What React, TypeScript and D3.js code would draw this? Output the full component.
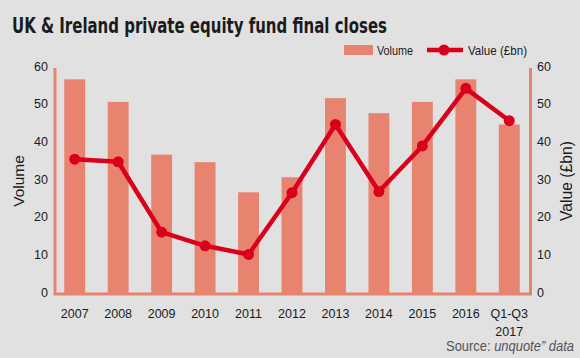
import React from "react";
import * as d3 from "d3";

const categories = ["2007", "2008", "2009", "2010", "2011", "2012", "2013", "2014", "2015", "2016", "Q1-Q3\n2017"];
const volume = [57, 51, 37, 35, 27, 31, 52, 48, 51, 57, 45];
const valueBn = [35.8, 35.1, 16.4, 12.8, 10.5, 26.9, 45.0, 27.2, 39.3, 54.6, 46.0];
const yTicks = [0, 10, 20, 30, 40, 50, 60];

const W = 580;
const H = 358;
const BG = "#e1e1e1";
const BAR = "#e8836f";
const RED = "#d9001b";
const SANS = "'Liberation Sans', Arial, sans-serif";
const COND = "'DejaVu Sans Condensed', 'Liberation Sans', sans-serif";
const INK = "#1b1b1b";

export default function App() {
  const x = d3.scaleBand<string>().domain(categories).range([53, 531]).paddingInner(0.52).paddingOuter(0.26);
  const yL = d3.scaleLinear().domain([0, 60]).range([294, 68]);
  const yR = d3.scaleLinear().domain([0, 60]).range([294, 68]);
  const cx = (c: string) => (x(c) as number) + x.bandwidth() / 2;
  const line = d3
    .line<number>()
    .x((_, i) => cx(categories[i]))
    .y((d) => yR(d));

  const frameLeft = 55;
  const frameRight = 530.5;
  const frameBottom = yL(0);
  const midY = (yL(0) + yL(60)) / 2;

  return (
    <svg width={W} height={H} style={{ position: "absolute", left: 0, top: 0 }}>
      <rect width={W} height={H} fill={BG} />
      <text
        x={12}
        y={33}
        fontFamily={COND}
        fontWeight="bold"
        fontSize={21.5}
        fill={INK}
        textLength={375}
        lengthAdjust="spacingAndGlyphs"
      >
        UK &amp; Ireland private equity fund final closes
      </text>

      {/* legend */}
      <rect x={344} y={45} width={29} height={10} fill={BAR} />
      <text x={377} y={54.5} fontFamily={SANS} fontSize={13} fill={INK} textLength={36} lengthAdjust="spacingAndGlyphs">
        Volume
      </text>
      <line x1={427} x2={463} y1={50} y2={50} stroke={RED} strokeWidth={4.5} />
      <circle cx={444} cy={50} r={5.5} fill={RED} />
      <text x={468} y={54.5} fontFamily={SANS} fontSize={13} fill={INK} textLength={59} lengthAdjust="spacingAndGlyphs">
        Value (£bn)
      </text>

      {/* bars */}
      {categories.map((c, i) => (
        <rect
          key={c}
          x={x(c)}
          y={yL(volume[i])}
          width={x.bandwidth()}
          height={yL(0) - yL(volume[i])}
          fill={BAR}
        />
      ))}

      {/* frame */}
      <path
        d={`M${frameLeft},${yL(60)} V${frameBottom} H${frameRight} V${yL(60)}`}
        fill="none"
        stroke={BAR}
        strokeWidth={3}
      />

      {/* left ticks */}
      {yTicks.map((t) => (
        <text key={"l" + t} x={48} y={yL(t) + 2.5} textAnchor="end" fontFamily={SANS} fontSize={12.5} fill={INK}>
          {t}
        </text>
      ))}
      {yTicks.map((t) => (
        <text key={"r" + t} x={537} y={yR(t) + 2.5} textAnchor="start" fontFamily={SANS} fontSize={12.5} fill={INK}>
          {t}
        </text>
      ))}

      {/* x labels */}
      {categories.map((c) => (
        <text key={"x" + c} x={cx(c)} y={318} textAnchor="middle" fontFamily={SANS} fontSize={12.5} fill={INK}>
          {c.split("\n").map((s, j) => (
            <tspan key={j} x={cx(c)} dy={j === 0 ? 0 : 17.5}>
              {s}
            </tspan>
          ))}
        </text>
      ))}

      {/* axis titles */}
      <text
        transform={`translate(24,${midY}) rotate(-90)`}
        textAnchor="middle"
        fontFamily={SANS}
        fontSize={15.5}
        fill={INK}
      >
        Volume
      </text>
      <text
        transform={`translate(572,${midY}) rotate(-90)`}
        textAnchor="middle"
        fontFamily={SANS}
        fontSize={15.7}
        fill={INK}
      >
        Value (£bn)
      </text>

      {/* value line */}
      <path d={line(valueBn) || ""} fill="none" stroke={RED} strokeWidth={4.5} strokeLinejoin="round" />
      {valueBn.map((v, i) => (
        <circle key={"p" + i} cx={cx(categories[i])} cy={yR(v)} r={5.5} fill={RED} />
      ))}

      {/* source */}
      <text
        x={446}
        y={351}
        fontFamily={SANS}
        fontSize={14}
        fill="#555"
        textLength={128}
        lengthAdjust="spacingAndGlyphs"
      >
        Source: <tspan fontStyle="italic">unquote” data</tspan>
      </text>
    </svg>
  );
}
